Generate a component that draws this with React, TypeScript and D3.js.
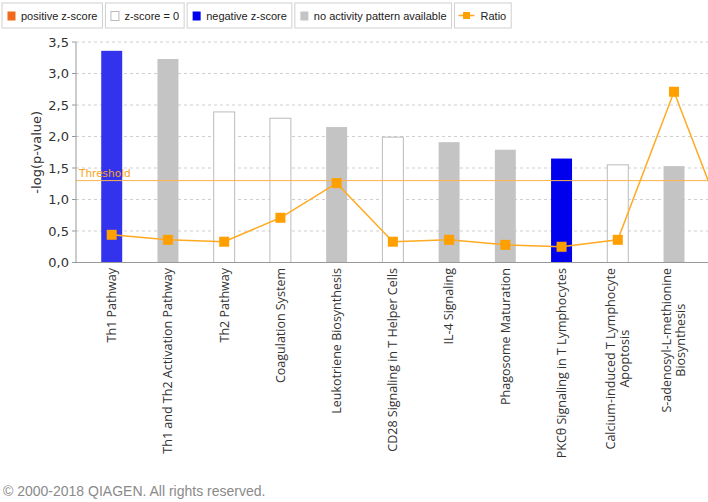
import React, { useEffect, useRef } from "react";
import * as d3 from "d3";

const width = 708;
const height = 502;
const plotTop = 42;
const plotBottom = 262.5;
const plotLeft = 76;
const labelTop = 268;

// pathways (last one runs off the right edge in the original export)
const categories = [
  "Th1 Pathway",
  "Th1 and Th2 Activation Pathway",
  "Th2 Pathway",
  "Coagulation System",
  "Leukotriene Biosynthesis",
  "CD28 Signaling in T Helper Cells",
  "IL-4 Signaling",
  "Phagosome Maturation",
  "PKCθ Signaling in T Lymphocytes",
  "Calcium-induced T Lymphocyte Apoptosis",
  "S-adenosyl-L-methionine Biosynthesis",
  "…",
];
// -log(p-value)
const logP = [3.36, 3.23, 2.39, 2.29, 2.15, 1.99, 1.91, 1.79, 1.65, 1.55, 1.53, 1.5];
// z-score: null = no activity pattern available
const zScores = [-1.2, null, 0, 0, null, 0, null, null, -2.2, 0, null, null];
// ratio, drawn on the same axis
const ratios = [0.44, 0.36, 0.33, 0.71, 1.26, 0.33, 0.36, 0.28, 0.25, 0.36, 2.71, 0.39];

const yTicks = [0, 0.5, 1, 1.5, 2, 2.5, 3, 3.5];
const threshold = 1.3;

const legendLabels = ["positive z-score", "z-score = 0", "negative z-score", "no activity pattern available", "Ratio"];
const legendFills = ["#f26a1b", "#ffffff", "#0000ee", "#c4c4c4", "#ffa000"];

const ratioColor = "#ffa000";
const font = "'DejaVu Sans', Verdana, sans-serif";
const labelFont = "'Open Sans', 'Noto Sans', sans-serif";
const legendFont = "'Liberation Sans', Arial, sans-serif";

function barFill(z: number | null) {
  if (z === null) return "#c4c4c4";
  if (z === 0) return "#ffffff";
  if (z > 0) return "#f26a1b";
  return d3.scaleLinear<string>().domain([-2, -1]).range(["#0000ee", "#4040ee"]).clamp(true)(z);
}

export default function App() {
  const ref = useRef<SVGSVGElement>(null);

  useEffect(() => {
    const svg = d3.select(ref.current);
    svg.selectAll("*").remove();

    const step = 56.23;
    const x = d3
      .scaleBand()
      .domain(categories)
      .range([83.6, 83.6 + step * categories.length])
      .paddingInner(0.627)
      .paddingOuter(0.3135);
    const y = d3.scaleLinear().domain([0, 3.5]).range([plotBottom, plotTop]);
    const fmt = (v: number) => d3.format(".1f")(v).replace(".", ",");

    // gridlines
    svg
      .append("g")
      .selectAll("line")
      .data(yTicks.filter((t) => t > 0))
      .join("line")
      .attr("x1", plotLeft)
      .attr("x2", width)
      .attr("y1", (d) => y(d))
      .attr("y2", (d) => y(d))
      .attr("stroke", "#cfcfcf")
      .attr("stroke-dasharray", "3,3");

    // bars
    svg
      .append("g")
      .selectAll("rect")
      .data(categories)
      .join("rect")
      .attr("x", (d) => x(d)!)
      .attr("width", x.bandwidth())
      .attr("y", (d, i) => y(logP[i]))
      .attr("height", (d, i) => plotBottom - y(logP[i]))
      .attr("fill", (d, i) => barFill(zScores[i]))
      .attr("stroke", (d, i) => (zScores[i] === 0 ? "#bbbbbb" : "none"));

    // threshold
    svg
      .append("line")
      .attr("x1", plotLeft)
      .attr("x2", width)
      .attr("y1", y(threshold))
      .attr("y2", y(threshold))
      .attr("stroke", "#ffb34d")
      .attr("stroke-width", 1);
    svg
      .append("text")
      .attr("x", plotLeft + 3)
      .attr("y", y(threshold) - 4)
      .attr("fill", "#f7a21b")
      .style("font", `10.5px ${font}`)
      .text("Threshold");

    // axes
    svg
      .append("line")
      .attr("x1", plotLeft)
      .attr("x2", plotLeft)
      .attr("y1", plotTop)
      .attr("y2", plotBottom)
      .attr("stroke", "#999");
    svg
      .append("line")
      .attr("x1", plotLeft)
      .attr("x2", width)
      .attr("y1", plotBottom)
      .attr("y2", plotBottom)
      .attr("stroke", "#999");
    const yt = svg.append("g").selectAll("g").data(yTicks).join("g").attr("transform", (d) => `translate(0,${y(d)})`);
    yt.append("line").attr("x1", plotLeft - 4).attr("x2", plotLeft).attr("stroke", "#999");
    yt.append("text")
      .attr("x", plotLeft - 7)
      .attr("dy", "0.35em")
      .attr("text-anchor", "end")
      .attr("fill", "#333")
      .style("font", `13px ${font}`)
      .text((d) => fmt(d));
    svg
      .append("text")
      .attr("transform", `translate(36,${(plotTop + plotBottom) / 2}) rotate(-90)`)
      .attr("text-anchor", "middle")
      .attr("dy", "0.35em")
      .attr("fill", "#333")
      .style("font", `13px ${font}`)
      .text("-log(p-value)");

    // category labels, wrapped and rotated
    const maxLen = 200;
    const labelStyle = `12.5px ${labelFont}`;
    const measure = svg.append("text").style("font", labelStyle);
    const textLen = (s: string) => {
      measure.text(s);
      return (measure.node() as SVGTextElement).getComputedTextLength();
    };
    categories.forEach((c) => {
      const cx = x(c)! + x.bandwidth() / 2;
      if (cx > width) return;
      const words = c.split(" ");
      const lines: string[] = [];
      let cur = "";
      words.forEach((w) => {
        const t = cur ? cur + " " + w : w;
        if (cur && textLen(t) > maxLen) {
          lines.push(cur);
          cur = w;
        } else cur = t;
      });
      lines.push(cur);
      const L = d3.max(lines, (l) => textLen(l))!;
      const g = svg.append("g").attr("transform", `translate(${cx},${labelTop}) rotate(-90)`);
      lines.forEach((l, i) => {
        g.append("text")
          .attr("x", lines.length > 1 ? -L / 2 : 0)
          .attr("y", (i - (lines.length - 1) / 2) * 14)
          .attr("dy", "0.35em")
          .attr("text-anchor", lines.length > 1 ? "middle" : "end")
          .attr("fill", "#333")
          .style("font", labelStyle)
          .text(l);
      });
    });
    measure.remove();

    // ratio line
    const line = d3
      .line<number>()
      .x((d, i) => x(categories[i])! + x.bandwidth() / 2)
      .y((d) => y(d));
    svg.append("path").datum(ratios).attr("d", line).attr("fill", "none").attr("stroke", "#ffaa22").attr("stroke-width", 1.5);
    svg
      .append("g")
      .selectAll("rect")
      .data(ratios)
      .join("rect")
      .attr("x", (d, i) => x(categories[i])! + x.bandwidth() / 2 - 5)
      .attr("y", (d) => y(d) - 5)
      .attr("width", 10)
      .attr("height", 10)
      .attr("fill", ratioColor);

    // legend
    let lx = 2;
    legendLabels.forEach((label, i) => {
      const g = svg.append("g").attr("transform", `translate(${lx},3)`);
      const box = g.append("rect").attr("height", 25).attr("fill", "#fff").attr("stroke", "#d0d0d0");
      let tx = 19;
      if (label === "Ratio") {
        g.append("line").attr("x1", 4).attr("x2", 20).attr("y1", 12.5).attr("y2", 12.5).attr("stroke", "#ffaa22").attr("stroke-width", 1.5);
        g.append("rect").attr("x", 8.5).attr("y", 9).attr("width", 7).attr("height", 7).attr("fill", ratioColor);
        tx = 26;
      } else {
        g.append("rect")
          .attr("x", 5.5)
          .attr("y", 8.5)
          .attr("width", 8)
          .attr("height", 9)
          .attr("fill", legendFills[i])
          .attr("stroke", legendFills[i] === "#ffffff" ? "#bbb" : "none");
      }
      const t = g
        .append("text")
        .attr("x", tx)
        .attr("y", 17)
        .attr("fill", "#222")
        .style("font", `11px ${legendFont}`)
        .text(label);
      const w = tx + (t.node() as SVGTextElement).getComputedTextLength() + 5;
      box.attr("width", w);
      lx += w + 3;
    });

    // footer
    svg
      .append("text")
      .attr("x", 3)
      .attr("y", 496)
      .attr("fill", "#8a8a8a")
      .style("font", "14px 'Liberation Sans', Arial, sans-serif")
      .text("© 2000-2018 QIAGEN. All rights reserved.");
  }, []);

  return (
    <svg
      ref={ref}
      width={width}
      height={height}
      style={{ position: "absolute", left: 0, top: 0, background: "#fff", display: "block" }}
    />
  );
}
